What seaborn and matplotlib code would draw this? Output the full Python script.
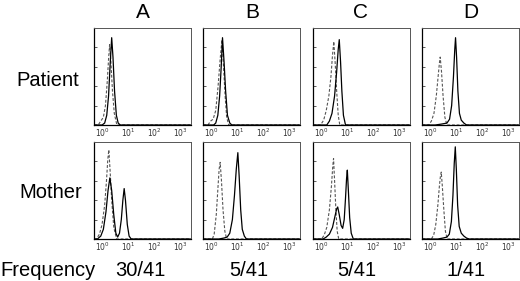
import matplotlib
matplotlib.use("Agg")
import matplotlib.pyplot as plt
import seaborn as sns

sns.set_theme(style="white")
plt.rcParams['font.family'] = ['Liberation Sans', 'DejaVu Sans']

columns = ["A", "B", "C", "D"]
rows = ["Patient", "Mother"]
frequencies = ["30/41", "5/41", "5/41", "1/41"]
tick_labels = ["$10^0$", "$10^1$", "$10^2$", "$10^3$"]
tick_values = [0, 1, 2, 3]

# log10 fluorescence (x) and relative cell count (y)
pA_dash_x = [-0.3, -0.15, -0.05, 0.05, 0.13, 0.2, 0.25, 0.29, 0.34, 0.4, 0.47, 0.57, 3.4]
pA_dash_y = [0, 0, 0.04, 0.08, 0.2, 0.45, 0.68, 0.83, 0.65, 0.35, 0.12, 0, 0]
pA_solid_x = [-0.3, 0.0, 0.1, 0.18, 0.25, 0.31, 0.37, 0.42, 0.48, 0.55, 0.62, 0.7, 3.4]
pA_solid_y = [0, 0, 0.02, 0.1, 0.3, 0.62, 0.9, 0.7, 0.35, 0.1, 0.02, 0, 0]

mA_dash_x = [-0.3, -0.22, -0.1, 0.0, 0.1, 0.17, 0.22, 0.26, 0.31, 0.37, 0.45, 0.56, 3.4]
mA_dash_y = [0, 0, 0.05, 0.15, 0.35, 0.6, 0.82, 0.92, 0.7, 0.4, 0.12, 0, 0]
mA_solid_x = [-0.3, -0.18, -0.05, 0.05, 0.15, 0.23, 0.3, 0.37, 0.45, 0.53, 0.6, 0.67,
              0.74, 0.8, 0.85, 0.9, 0.97, 1.04, 1.12, 3.4]
mA_solid_y = [0, 0, 0.03, 0.1, 0.28, 0.5, 0.63, 0.5, 0.25, 0.06, 0.02, 0.06,
              0.2, 0.4, 0.52, 0.4, 0.15, 0.03, 0, 0]

pB_dash_x = [-0.3, -0.12, -0.02, 0.08, 0.18, 0.27, 0.35, 0.42, 0.48, 0.54, 0.6, 0.68, 3.4]
pB_dash_y = [0, 0, 0.04, 0.06, 0.15, 0.4, 0.68, 0.88, 0.6, 0.3, 0.08, 0, 0]
pB_solid_x = [-0.3, 0.1, 0.18, 0.26, 0.33, 0.39, 0.44, 0.5, 0.56, 0.63, 0.72, 0.8, 3.4]
pB_solid_y = [0, 0, 0.02, 0.1, 0.3, 0.6, 0.9, 0.65, 0.35, 0.1, 0.02, 0, 0]

mB_dash_x = [-0.3, 0.05, 0.12, 0.2, 0.27, 0.31, 0.35, 0.4, 0.46, 0.53, 0.6, 3.4]
mB_dash_y = [0, 0, 0.05, 0.25, 0.55, 0.72, 0.79, 0.6, 0.3, 0.08, 0, 0]
mB_solid_x = [-0.3, 0.3, 0.5, 0.62, 0.72, 0.82, 0.9, 0.97, 1.03, 1.08, 1.14, 1.2, 1.28, 1.36, 3.4]
mB_solid_y = [0, 0, 0.01, 0.02, 0.06, 0.2, 0.45, 0.72, 0.89, 0.65, 0.3, 0.1, 0.03, 0, 0]

pC_dash_x = [-0.3, -0.02, 0.1, 0.2, 0.3, 0.38, 0.44, 0.49, 0.54, 0.6, 0.66, 0.72, 3.4]
pC_dash_y = [0, 0, 0.05, 0.15, 0.3, 0.5, 0.72, 0.86, 0.65, 0.35, 0.1, 0, 0]
pC_solid_x = [-0.3, 0.22, 0.32, 0.42, 0.52, 0.6, 0.66, 0.7, 0.75, 0.8, 0.86, 0.94, 3.4]
pC_solid_y = [0, 0, 0.04, 0.12, 0.3, 0.55, 0.78, 0.88, 0.65, 0.35, 0.1, 0, 0]

mC_dash_x = [-0.3, 0.02, 0.12, 0.22, 0.32, 0.4, 0.45, 0.48, 0.52, 0.57, 0.62, 0.68, 3.4]
mC_dash_y = [0, 0, 0.04, 0.12, 0.3, 0.55, 0.75, 0.83, 0.6, 0.3, 0.08, 0, 0]
mC_solid_x = [-0.3, 0.08, 0.2, 0.32, 0.44, 0.54, 0.6, 0.64, 0.7, 0.77, 0.83, 0.89,
              0.94, 0.98, 1.01, 1.05, 1.1, 1.16, 1.24, 3.4]
mC_solid_y = [0, 0, 0.02, 0.05, 0.12, 0.24, 0.31, 0.33, 0.25, 0.14, 0.11, 0.2,
              0.42, 0.62, 0.71, 0.5, 0.22, 0.06, 0, 0]

pD_dash_x = [-0.3, -0.05, 0.05, 0.15, 0.24, 0.31, 0.36, 0.39, 0.44, 0.5, 0.57, 0.65, 3.4]
pD_dash_y = [0, 0, 0.04, 0.12, 0.3, 0.5, 0.64, 0.7, 0.55, 0.3, 0.08, 0, 0]
pD_solid_x = [-0.3, 0.2, 0.45, 0.65, 0.75, 0.83, 0.9, 0.95, 0.98, 1.02, 1.07, 1.13, 1.2, 1.3, 1.4, 3.4]
pD_solid_y = [0, 0, 0.01, 0.02, 0.06, 0.2, 0.5, 0.78, 0.9, 0.7, 0.35, 0.12, 0.05, 0.02, 0, 0]

mD_dash_x = [-0.3, 0.05, 0.14, 0.22, 0.3, 0.36, 0.4, 0.43, 0.47, 0.53, 0.59, 0.66, 3.4]
mD_dash_y = [0, 0, 0.04, 0.15, 0.35, 0.55, 0.65, 0.69, 0.55, 0.3, 0.08, 0, 0]
mD_solid_x = [-0.3, 0.3, 0.5, 0.65, 0.74, 0.82, 0.88, 0.93, 0.97, 1.01, 1.06, 1.12, 1.2, 1.3, 1.4, 1.5, 3.4]
mD_solid_y = [0, 0, 0.01, 0.02, 0.05, 0.18, 0.45, 0.78, 0.95, 0.72, 0.35, 0.13, 0.06, 0.03, 0.01, 0, 0]

curves = {
    (0, 0): (pA_dash_x, pA_dash_y, pA_solid_x, pA_solid_y),
    (1, 0): (mA_dash_x, mA_dash_y, mA_solid_x, mA_solid_y),
    (0, 1): (pB_dash_x, pB_dash_y, pB_solid_x, pB_solid_y),
    (1, 1): (mB_dash_x, mB_dash_y, mB_solid_x, mB_solid_y),
    (0, 2): (pC_dash_x, pC_dash_y, pC_solid_x, pC_solid_y),
    (1, 2): (mC_dash_x, mC_dash_y, mC_solid_x, mC_solid_y),
    (0, 3): (pD_dash_x, pD_dash_y, pD_solid_x, pD_solid_y),
    (1, 3): (mD_dash_x, mD_dash_y, mD_solid_x, mD_solid_y),
}

W, H = 520, 281
fig = plt.figure(figsize=(W / 100, H / 100), dpi=100)
fig.patch.set_facecolor("white")

col_left = [94, 203, 313, 422]
col_w = 97
row_top = [28, 142]
row_h = 97

for (r, c), (dx, dy, sx, sy) in curves.items():
    left = col_left[c] / W
    bottom = 1 - (row_top[r] + row_h) / H
    ax = fig.add_axes([left, bottom, col_w / W, row_h / H])
    sns.lineplot(x=dx, y=dy, ax=ax, color="#555555", lw=0.8,
                 linestyle=(0, (2.6, 1.6)), sort=False, estimator=None)
    sns.lineplot(x=sx, y=sy, ax=ax, color="black", lw=0.9,
                 sort=False, estimator=None)
    ax.set_xlim(-0.31, 3.42)
    ax.set_ylim(0, 1.0)
    ax.set_xticks(tick_values)
    ax.set_xticklabels(tick_labels, fontsize=5.5, color="#333333")
    ax.set_yticks([0.2, 0.4, 0.6, 0.8])
    ax.set_yticklabels([])
    ax.tick_params(axis="x", length=0, pad=1.5)
    ax.tick_params(axis="y", direction="in", length=2, width=0.6, color="#444444", left=True)
    for side, sp in ax.spines.items():
        sp.set_color("black" if side in ("left", "bottom") else "#555555")
        sp.set_linewidth(0.9 if side in ("left", "bottom") else 0.7)
    ax.set_xlabel("")
    ax.set_ylabel("")

col_centers = [143, 252, 361, 471]
for name, xc in zip(columns, col_centers):
    fig.text(xc / W, 1 - 13 / H, name, ha="center", va="center", fontsize=15, color="black")

row_centers = [(48, 80), (51, 192)]
for name, (xc, yc) in zip(rows, row_centers):
    fig.text(xc / W, 1 - yc / H, name, ha="center", va="center", fontsize=14.5, color="black")

fig.text(0 / W, 1 - 271 / H, "Frequency", ha="left", va="center", fontsize=14.5, color="black")
freq_centers = [140, 249, 357, 466]
for label, xc in zip(frequencies, freq_centers):
    fig.text(xc / W, 1 - 271 / H, label, ha="center", va="center", fontsize=14.5, color="black")

fig.savefig("out.png", dpi=100, facecolor="white")
